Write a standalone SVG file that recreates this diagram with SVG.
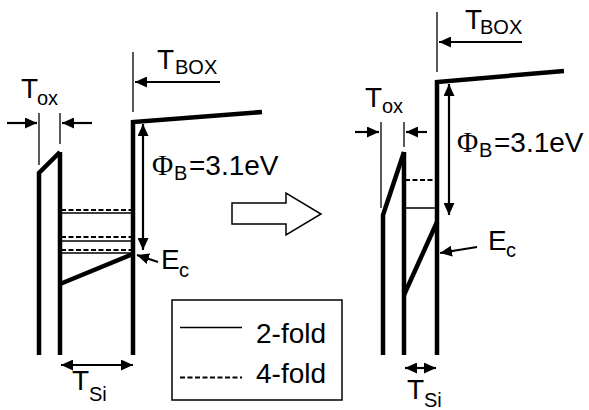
<svg xmlns="http://www.w3.org/2000/svg" width="589" height="410" viewBox="0 0 589 410">
<style>
.thick{fill:none;stroke:#000;stroke-width:4.5;stroke-linejoin:miter}
.thin{fill:none;stroke:#000;stroke-width:1.3}
.arr{fill:none;stroke:#000;stroke-width:2.2}
.dash{fill:none;stroke:#000;stroke-width:2;stroke-dasharray:5 2.5}
.lvl{fill:none;stroke:#000;stroke-width:1.5}
text{font-family:"Liberation Sans",Arial,sans-serif;fill:#000}
.big{font-size:28px}
.sub{font-size:20px}
.phi{font-family:"Liberation Serif","Times New Roman",serif;font-size:29px}
</style>
<defs>
<marker id="ah" markerUnits="userSpaceOnUse" markerWidth="12" markerHeight="11" refX="12" refY="5.5" orient="auto-start-reverse" viewBox="0 0 12 11">
<path d="M0,0 L12,5.5 L0,11 z" fill="#000"/>
</marker>
</defs>
<rect width="589" height="410" fill="#fff"/>

<g id="left-band">
<polyline class="thick" points="39,355 39,173 60,152"/>
<line class="thick" x1="60" y1="152" x2="60" y2="355"/>
<polyline class="thick" points="133,355 133,122 262,112"/>
<line class="thick" x1="60" y1="284" x2="133" y2="254"/>
<line class="dash" x1="61" y1="210" x2="132" y2="210"/>
<line class="lvl" x1="61" y1="213" x2="132" y2="213"/>
<line class="dash" x1="61" y1="237" x2="132" y2="237"/>
<line class="lvl" x1="61" y1="241" x2="132" y2="241"/>
<line class="dash" x1="61" y1="250" x2="132" y2="250"/>
<line class="lvl" x1="61" y1="253" x2="132" y2="253"/>
</g>

<g id="left-labels">
<line class="thin" x1="39" y1="113" x2="39" y2="165"/>
<line class="thin" x1="60" y1="113" x2="60" y2="144"/>
<line class="thin" x1="133" y1="52" x2="133" y2="112"/>
<text class="big" x="21" y="98">T</text><text class="sub" x="37" y="105">ox</text>
<text class="big" x="157" y="69">T</text><text class="sub" x="175" y="74">BOX</text>
<text class="phi" x="152" y="175">Φ</text><text class="sub" x="174" y="180">B</text><text class="big" x="189" y="175">=3.1eV</text>
<text class="big" x="161" y="269">E</text><text class="sub" x="179" y="277">c</text>
<text class="big" x="72" y="390">T</text><text class="sub" x="89" y="401">Si</text>
</g>

<g id="arrow-big">
<polygon points="232,203 286,203 286,193 321,214 286,235 286,224 232,224" fill="#fff" stroke="#000" stroke-width="1.5"/>
</g>

<g id="legend">
<rect x="172" y="300" width="170" height="100" fill="none" stroke="#000" stroke-width="1.5"/>
<line class="lvl" x1="180" y1="327.5" x2="242" y2="327.5" stroke-width="1.8"/>
<line class="dash" x1="180" y1="377.5" x2="242" y2="377.5"/>
<text class="big" x="256" y="343">2-fold</text>
<text class="big" x="256" y="383">4-fold</text>
</g>

<g id="right-band">
<polyline class="thick" points="383,355 383,215 404,152"/>
<line class="thick" x1="404" y1="152" x2="404" y2="355"/>
<polyline class="thick" points="437,355 437,82 564,71"/>
<line class="thick" x1="404" y1="295" x2="437" y2="222"/>
<line class="dash" x1="405" y1="180" x2="436" y2="180"/>
<line class="lvl" x1="405" y1="208" x2="436" y2="208"/>
</g>

<g id="right-labels">
<line class="thin" x1="381" y1="122" x2="381" y2="208"/>
<line class="thin" x1="404" y1="122" x2="404" y2="147"/>
<line class="thin" x1="437" y1="12" x2="437" y2="72"/>
<text class="big" x="365" y="107">T</text><text class="sub" x="382" y="113">ox</text>
<text class="big" x="465" y="29">T</text><text class="sub" x="480" y="34">BOX</text>
<text class="phi" x="457" y="152">Φ</text><text class="sub" x="479" y="157">B</text><text class="big" x="494" y="152">=3.1eV</text>
<text class="big" x="488" y="250">E</text><text class="sub" x="506" y="257">c</text>
<text class="big" x="407" y="399">T</text><text class="sub" x="424" y="407">Si</text>
</g>

<g id="connectors">
<line class="arr" x1="7" y1="123" x2="37" y2="123" marker-end="url(#ah)"/>
<line class="arr" x1="92" y1="123" x2="62" y2="123" marker-end="url(#ah)"/>
<line class="arr" x1="220" y1="82" x2="135" y2="82" marker-end="url(#ah)"/>
<line class="arr" x1="143" y1="124" x2="143" y2="250" marker-start="url(#ah)" marker-end="url(#ah)"/>
<line class="arr" x1="158" y1="262" x2="137" y2="255" marker-end="url(#ah)"/>
<line class="arr" x1="61" y1="365" x2="133" y2="365" marker-start="url(#ah)" marker-end="url(#ah)"/>
<line class="arr" x1="355" y1="132" x2="379" y2="132" marker-end="url(#ah)"/>
<line class="arr" x1="427" y1="132" x2="406" y2="132" marker-end="url(#ah)"/>
<line class="arr" x1="522" y1="42" x2="439" y2="42" marker-end="url(#ah)"/>
<line class="arr" x1="449" y1="84" x2="449" y2="215" marker-start="url(#ah)" marker-end="url(#ah)"/>
<line class="arr" x1="477" y1="247" x2="440" y2="253" marker-end="url(#ah)"/>
<line class="arr" x1="405" y1="368" x2="436" y2="368" marker-start="url(#ah)" marker-end="url(#ah)"/>
</g>
</svg>
